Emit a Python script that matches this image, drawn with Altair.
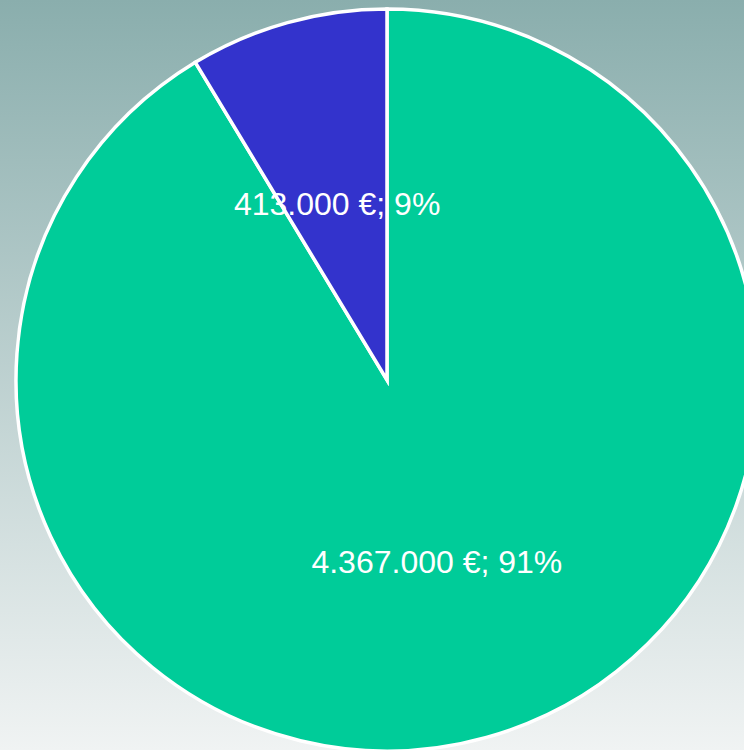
import altair as alt
import pandas as pd

categories = ["A", "B"]
values = [4367000, 413000]
labels = ["4.367.000 €; 91%", "413.000 €; 9%"]
colors = ["#00cc99", "#3333cc"]

df = pd.DataFrame({"cat": categories, "value": values, "label": labels, "ord": [0, 1]})

W, H = 744, 750
CX, CY, R = 387, 380, 371

bg = alt.Chart(pd.DataFrame({"a": [0]})).mark_rect(
    fill=alt.LinearGradient(
        gradient="linear",
        stops=[alt.GradientStop(color="#8aaead", offset=0),
               alt.GradientStop(color="#f0f3f3", offset=1)],
        x1=0, x2=0, y1=0, y2=1,
    )
).encode(x=alt.value(0), x2=alt.value(W), y=alt.value(0), y2=alt.value(H))

base = alt.Chart(df).encode(
    theta=alt.Theta("value:Q", stack=True),
    order=alt.Order("ord:Q"),
)

arcs = base.mark_arc(stroke="white", strokeWidth=3.5, radius=R).encode(
    x=alt.value(CX), y=alt.value(CY),
    color=alt.Color("cat:N", scale=alt.Scale(domain=categories, range=colors), legend=None),
)

text = base.mark_text(radius=186, dy=4, fontSize=32, font="Liberation Sans", color="white",
                      baseline="middle", align="center").encode(
    x=alt.value(CX), y=alt.value(CY),
    text="label:N",
)

chart = alt.layer(bg, arcs, text).properties(
    width=W, height=H, padding=0, autosize=alt.AutoSizeParams(type="none")
).configure_view(stroke=None)

chart.save("out.html", embed_options={"renderer": "svg", "actions": False})
